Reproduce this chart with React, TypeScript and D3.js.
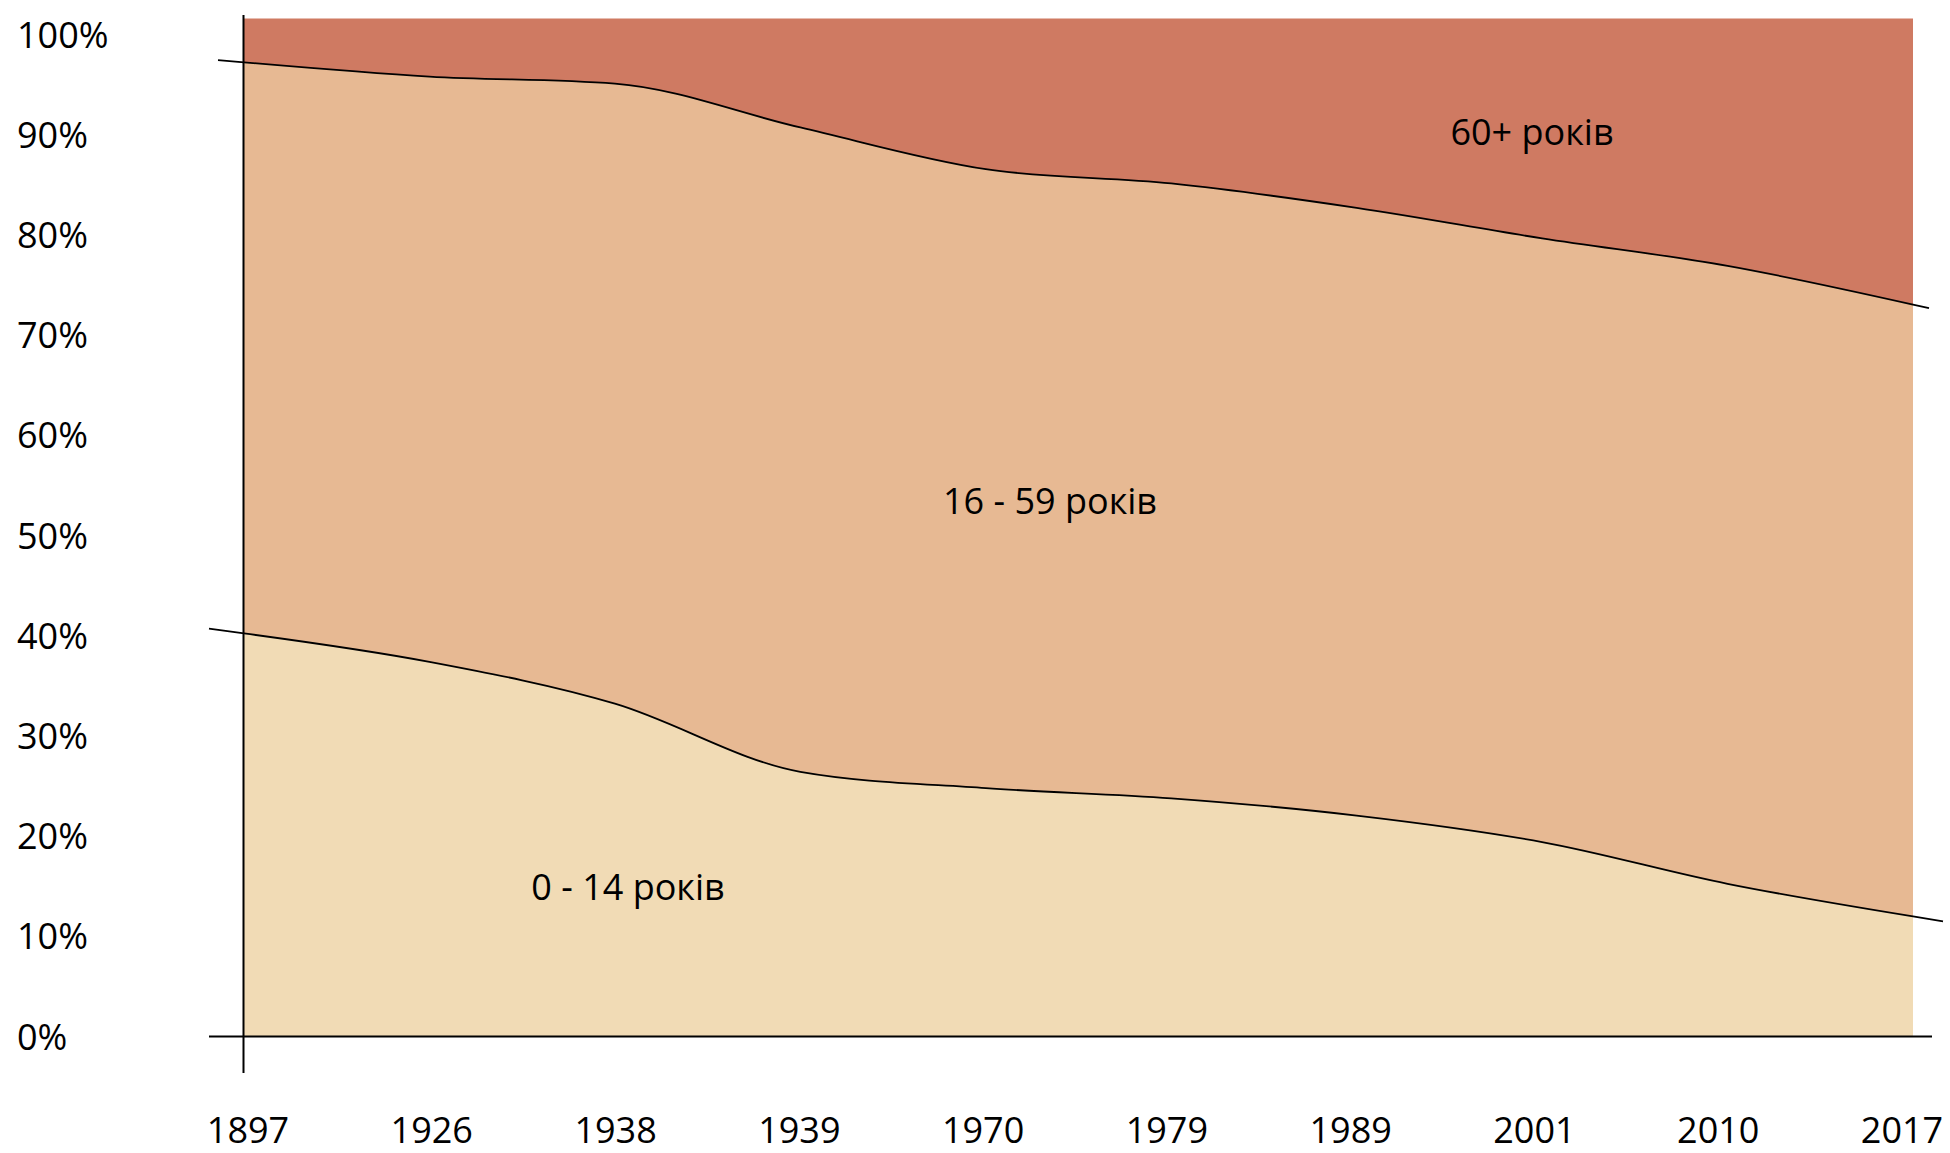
import * as d3 from 'd3';

// census years (categorical x)
const years = ['1897', '1926', '1938', '1939', '1970', '1979', '1989', '2001', '2010', '2017'];

// share of population by age group, %
const ageKeys = ['young', 'working', 'old'] as const;
const young = [39.6, 36.8, 32.7, 26.0, 24.4, 23.4, 21.7, 19.1, 15.0, 11.8];
const working = [56.1, 57.5, 60.9, 63.3, 60.8, 60.4, 59.7, 59.3, 60.7, 60.1];
const old = [4.3, 5.7, 6.4, 10.7, 14.8, 16.2, 18.6, 21.6, 24.3, 28.1];

const ageLabels = ['0 - 14 років', '16 - 59 років', '60+ років'];
const yTicks = [0, 10, 20, 30, 40, 50, 60, 70, 80, 90, 100];

const W = 1950;
const H = 1153;
const FONT = '"Open Sans", sans-serif';
const colors = ['#f1dbb5', '#e7b993', '#cf7a62'];

type Row = { year: string; young: number; working: number; old: number };

const rows: Row[] = years.map((year, i) => ({
  year,
  young: young[i],
  working: working[i],
  old: old[i],
}));

// end tangents the same way d3.curveMonotoneX computes them
function sign(v: number) {
  return v < 0 ? -1 : 1;
}
function slope3(x: number[], y: number[], i: number) {
  const h0 = x[i] - x[i - 1];
  const h1 = x[i + 1] - x[i];
  const s0 = (y[i] - y[i - 1]) / h0;
  const s1 = (y[i + 1] - y[i]) / h1;
  const p = (s0 * h1 + s1 * h0) / (h0 + h1);
  return (sign(s0) + sign(s1)) * Math.min(Math.abs(s0), Math.abs(s1), 0.5 * Math.abs(p)) || 0;
}
function endTangents(x: number[], y: number[]) {
  const n = x.length;
  const t1 = slope3(x, y, 1);
  const tn = slope3(x, y, n - 2);
  const start = (3 * (y[1] - y[0]) / (x[1] - x[0]) - t1) / 2;
  const end = (3 * (y[n - 1] - y[n - 2]) / (x[n - 1] - x[n - 2]) - tn) / 2;
  return [start, end];
}

export default function App() {
  const x = d3.scalePoint<string>().domain(years).range([244, 1913]);
  const xLabel = d3.scalePoint<string>().domain(years).range([248, 1902]);
  const y = d3.scaleLinear().domain([0, 100]).range([1036.5, 18.5]);
  const yLabel = d3.scaleLinear().domain([0, 100]).range([1049.5, 47.5]);

  const series = d3.stack<Row>().keys(ageKeys as unknown as string[])(rows);

  const area = d3
    .area<d3.SeriesPoint<Row>>()
    .x((d) => x(d.data.year) ?? 0)
    .y0((d) => y(d[0]))
    .y1((d) => y(d[1]))
    .curve(d3.curveMonotoneX);

  const line = d3
    .line<[number, number]>()
    .x((d) => d[0])
    .y((d) => d[1])
    .curve(d3.curveMonotoneX);

  // boundary lines run a little past the filled area on both sides
  const boundary = (s: d3.Series<Row, string>, extL: number, extR: number) => {
    const pts: [number, number][] = s.map((d) => [x(d.data.year) ?? 0, y(d[1])]);
    const px = pts.map((p) => p[0]);
    const py = pts.map((p) => p[1]);
    const [t0, t1] = endTangents(px, py);
    const first = pts[0];
    const last = pts[pts.length - 1];
    const d = line(pts) ?? '';
    return (
      `M${first[0] - extL},${first[1] - t0 * extL}L` +
      d.slice(1) +
      `L${last[0] + extR},${last[1] + t1 * extR}`
    );
  };

  return (
    <svg
      width={W}
      height={H}
      style={{ position: 'absolute', left: 0, top: 0, display: 'block', background: '#fff' }}
    >
      {series.map((s, i) => (
        <path key={s.key} d={area(s) ?? ''} fill={colors[i]} />
      ))}

      <path d={boundary(series[0], 35, 30)} fill="none" stroke="#000" strokeWidth={1.8} />
      <path d={boundary(series[1], 26, 16)} fill="none" stroke="#000" strokeWidth={1.8} />

      {/* axes */}
      <line x1={243.5} x2={243.5} y1={15} y2={1073} stroke="#000" strokeWidth={2} />
      <line x1={209} x2={1932} y1={y(0)} y2={y(0)} stroke="#000" strokeWidth={2} />

      {yTicks.map((t) => (
        <text key={t} x={17} y={yLabel(t)} fontFamily={FONT} fontSize={36} fill="#000">
          {t}%
        </text>
      ))}

      {years.map((yr) => (
        <text
          key={yr}
          x={xLabel(yr)}
          y={1143}
          textAnchor="middle"
          fontFamily={FONT}
          fontSize={36}
          fill="#000"
        >
          {yr}
        </text>
      ))}

      <text x={628} y={900} textAnchor="middle" fontFamily={FONT} fontSize={36} fill="#000">
        {ageLabels[0]}
      </text>
      <text x={1050} y={514} textAnchor="middle" fontFamily={FONT} fontSize={36} fill="#000">
        {ageLabels[1]}
      </text>
      <text x={1532} y={145} textAnchor="middle" fontFamily={FONT} fontSize={36} fill="#000">
        {ageLabels[2]}
      </text>
    </svg>
  );
}
